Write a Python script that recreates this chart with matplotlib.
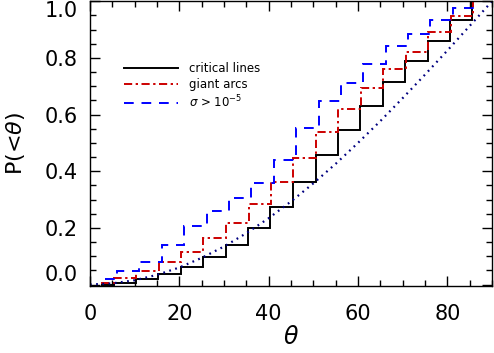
import numpy as np
import matplotlib.pyplot as plt
from matplotlib.lines import Line2D

# step edges (deg) and cumulative fractions
edges_crit = [2.5, 5.3, 10.3, 15.3, 20.3, 25.3, 30.4, 35.4, 40.4, 45.4,
              50.5, 55.5, 60.5, 65.5, 70.5, 75.6, 80.6, 85.6, 90]
p_crit = [0.0, 0.006, 0.018, 0.036, 0.061, 0.096, 0.139, 0.201, 0.274,
          0.361, 0.458, 0.547, 0.632, 0.714, 0.788, 0.860, 0.933, 1.0]

edges_arcs = [2.5, 5.3, 10.3, 15.4, 20.4, 25.4, 30.5, 35.5, 40.6, 45.5,
              50.6, 55.5, 60.7, 65.7, 70.8, 75.7, 80.8, 85.7, 90]
p_arcs = [0.004, 0.023, 0.046, 0.078, 0.115, 0.165, 0.218, 0.283, 0.361,
          0.447, 0.539, 0.618, 0.693, 0.760, 0.820, 0.891, 0.948, 1.0]

edges_sig = [3.3, 6.0, 11.0, 16.1, 21.1, 26.2, 31.1, 36.1, 41.1, 46.2,
             51.2, 56.1, 61.2, 66.2, 71.2, 76.2, 81.2, 86.2, 90]
p_sig = [0.018, 0.048, 0.080, 0.141, 0.207, 0.259, 0.305, 0.359, 0.441,
         0.553, 0.647, 0.712, 0.778, 0.842, 0.885, 0.933, 0.978, 1.0]

# dotted reference curve (random orientations)
theta_ref = [0, 5, 10, 15, 20, 25, 30, 35, 40, 45, 50, 55, 60, 65, 70, 75, 80, 85, 90]
p_ref = [0.0, 0.004, 0.015, 0.034, 0.060, 0.094, 0.134, 0.181, 0.234, 0.293,
         0.357, 0.426, 0.500, 0.577, 0.658, 0.741, 0.826, 0.913, 1.0]

labels = ['critical lines', 'giant arcs', r'$\sigma$ > 10$^{-5}$']

fig = plt.figure(figsize=(4.94, 3.53), dpi=100)
ax = fig.add_axes([0.182, 0.19, 0.814, 0.808])

ls_arcs = (0, (4.2, 1.8, 1.2, 1.8))
ls_sig = (0, (5, 4))

ax.plot(theta_ref, p_ref, color='#000080', lw=1.6, ls=(0, (0.8, 2.0)))
ax.stairs(p_crit, edges_crit, baseline=None, color='black', lw=1.4)
ax.stairs(p_arcs, edges_arcs, baseline=None, color='#cc0000', lw=1.4, ls=ls_arcs)
ax.stairs(p_sig, edges_sig, baseline=None, color='#0000ff', lw=1.4, ls=ls_sig)

handles = [Line2D([], [], color='black', lw=1.4),
           Line2D([], [], color='#cc0000', lw=1.4, ls=ls_arcs),
           Line2D([], [], color='#0000ff', lw=1.4, ls=ls_sig)]
ax.legend(handles, labels, loc='upper left', bbox_to_anchor=(0.085, 0.785),
          frameon=False, fontsize=8.5, handlelength=4.6, handletextpad=0.9,
          labelspacing=0.25, borderpad=0, borderaxespad=0)

ax.set_xlim(0, 90)
ax.set_ylim(-0.005, 1.002)
ax.set_xticks([0, 20, 40, 60, 80])
ax.set_xticks(np.arange(0, 91, 5), minor=True)
ax.set_yticks([0.0, 0.2, 0.4, 0.6, 0.8, 1.0])
ax.set_yticks(np.arange(0, 1.001, 0.05), minor=True)
ax.set_yticklabels(['0.0', '0.2', '0.4', '0.6', '0.8', '1.0'])
ax.tick_params(which='both', direction='in', top=True, right=True, labelsize=15)
ax.tick_params(which='major', length=7, width=1)
ax.tick_params(which='minor', length=4, width=1)
ax.tick_params(axis='x', pad=13)
ax.tick_params(axis='y', pad=9)
yl = ax.get_yticklabels()
yl[-1].set_va('top')
yl[0].set_va('bottom')

for s in ax.spines.values():
    s.set_linewidth(1.0)

ax.set_xlabel(r'$\theta$', fontsize=17, labelpad=1)
ax.set_ylabel(r'P(<$\theta$)', fontsize=16, labelpad=12)

fig.savefig('out.png', dpi=100)
